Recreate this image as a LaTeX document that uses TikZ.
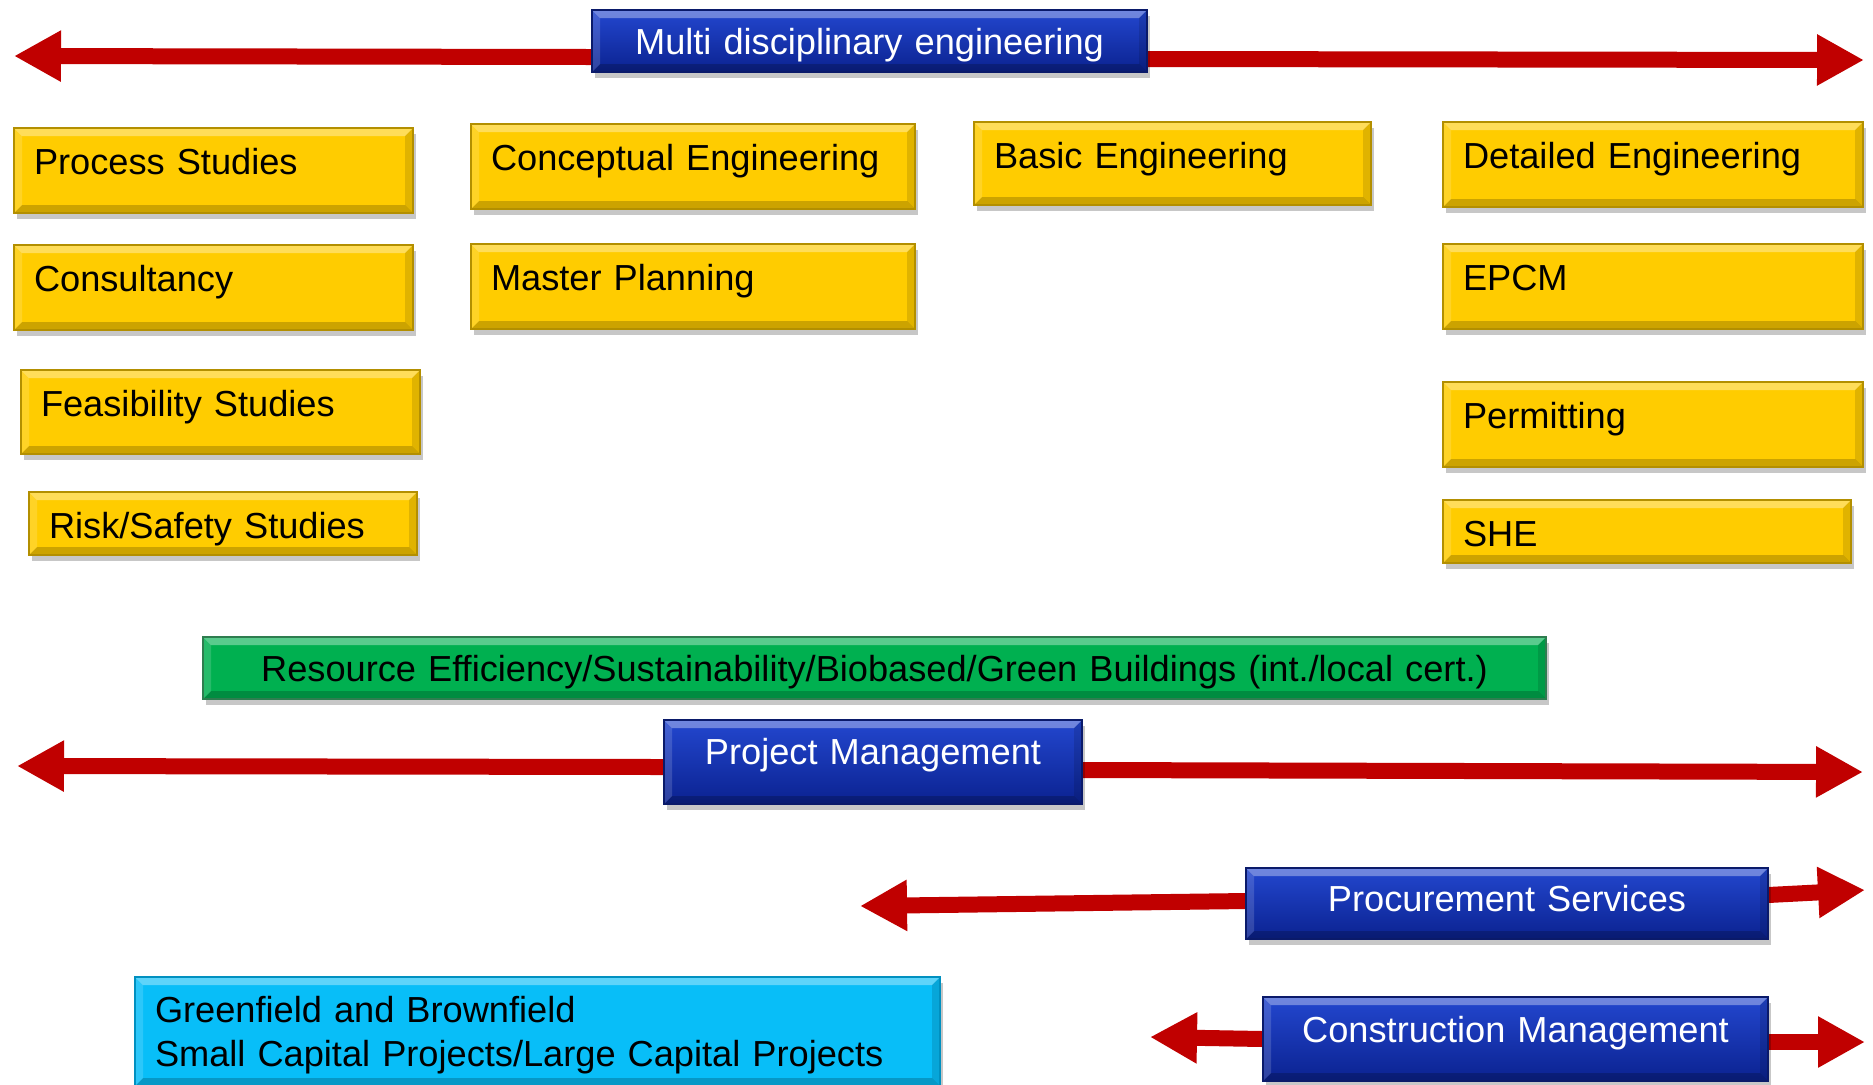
\documentclass[tikz,border=0pt]{standalone}
\usepackage{fontspec}
\setmainfont{Liberation Sans}
\usetikzlibrary{arrows.meta,shadows,backgrounds}
\definecolor{ygold}{HTML}{FFCC00}
\definecolor{yedge}{HTML}{B38F00}
\definecolor{btop}{HTML}{2347CF}
\definecolor{bbot}{HTML}{0B2290}
\definecolor{bedge}{HTML}{0A1A6A}
\definecolor{ggreen}{HTML}{00B050}
\definecolor{gedge}{HTML}{2E7D4F}
\definecolor{ccyan}{HTML}{08BEF8}
\definecolor{cedge}{HTML}{0090C0}
\definecolor{ared}{HTML}{C00000}
\tikzset{
  bevel/.style={path picture={
    \fill[white,opacity=0.35] (path picture bounding box.north west) -- (path picture bounding box.north east) -- ([xshift=-4pt,yshift=-4pt]path picture bounding box.north east) -- ([xshift=4pt,yshift=-4pt]path picture bounding box.north west) -- cycle;
    \fill[black,opacity=0.2] (path picture bounding box.south west) -- (path picture bounding box.south east) -- ([xshift=-4pt,yshift=4pt]path picture bounding box.south east) -- ([xshift=4pt,yshift=4pt]path picture bounding box.south west) -- cycle;
    \fill[white,opacity=0.15] (path picture bounding box.north west) -- ([xshift=4pt,yshift=-4pt]path picture bounding box.north west) -- ([xshift=4pt,yshift=4pt]path picture bounding box.south west) -- (path picture bounding box.south west) -- cycle;
    \fill[black,opacity=0.12] (path picture bounding box.north east) -- ([xshift=-4pt,yshift=-4pt]path picture bounding box.north east) -- ([xshift=-4pt,yshift=4pt]path picture bounding box.south east) -- (path picture bounding box.south east) -- cycle;
  }},
  box/.style={anchor=north west, inner xsep=10pt, inner ysep=0pt, outer sep=0pt,
    line width=0.6pt, font=\fontsize{18.1pt}{22pt}\selectfont,
    drop shadow={shadow xshift=1.5pt,shadow yshift=-3pt,opacity=0.22,fill=black}, bevel},
  ybox/.style={box, fill=ygold, draw=yedge, align=left, text height=23pt, text depth=19.5pt},
  bbox/.style={box, top color=btop, bottom color=bbot, draw=bedge, text=white, align=center},
  gbox/.style={box, fill=ggreen, draw=gedge, align=center},
  cbox/.style={box, fill=ccyan, draw=cedge, align=left},
  redarrow/.style={draw=ared, line width=8pt, -{Triangle[length=23.5pt,width=24pt,fill=ared]}},
}
\begin{document}
\begin{tikzpicture}[x=0.5pt,y=-0.5pt]
\useasboundingbox (0,0) rectangle (1873,1084);
% yellow boxes
\node[ybox, text width=179.5pt] (ps) at (14,128) {Process Studies};
\node[ybox, text width=179.5pt] (cs) at (14,245) {Consultancy};
\node[ybox, text width=179.5pt, text depth=19pt] (fs) at (21,370) {Feasibility Studies};
\node[ybox, text width=174pt, text depth=8.5pt] (rs) at (29,492) {Risk/Safety Studies};
\node[ybox, text width=202pt] (ce) at (471,124) {Conceptual Engineering};
\node[ybox, text width=202pt] (mp) at (471,244) {Master Planning};
\node[ybox, text width=178.5pt, text depth=18.5pt] (be) at (974,122) {Basic Engineering};
\node[ybox, text width=190pt] (de) at (1443,122) {Detailed Engineering};
\node[ybox, text width=190pt] (ep) at (1443,244) {EPCM};
\node[ybox, text width=190pt] (pe) at (1443,382) {Permitting};
\node[ybox, text width=184pt, text depth=8.5pt] (sh) at (1443,500) {SHE};
% blue boxes
\node[bbox, text width=257.5pt, text height=22pt, text depth=9pt] (mde) at (592,10) {Multi disciplinary engineering};
\node[bbox, text width=189pt, text height=22pt, text depth=20pt] (pm) at (664,720) {Project Management};
\node[bbox, text width=241pt, text height=21.5pt, text depth=14pt] (prn) at (1246,868) {Procurement Services};
\node[bbox, text width=232.5pt, text height=22.5pt, text depth=19.5pt] (cm) at (1263,997) {Construction Management};
% green and cyan
\node[gbox, text width=651.5pt, text height=22pt, text depth=9pt] (gr) at (203,637) {Resource Efficiency/Sustainability/Biobased/Green Buildings (int./local cert.)};
\node[cbox, text width=382.5pt, text height=22.5pt, text depth=32pt] (cy) at (135,977) {Greenfield and Brownfield\\Small Capital Projects/Large Capital Projects};
% arrow ends
\coordinate (tl) at (14,56);
\coordinate (tr) at (1864,60);
\coordinate (pl) at (17,766);
\coordinate (pr2) at (1863,772);
\coordinate (ql) at (860,906);
\coordinate (qr) at (1865,890);
\coordinate (cl) at (1150,1037);
\coordinate (cr) at (1865,1042);
\begin{scope}[on background layer]
\draw[redarrow] ([yshift=-8pt]mde.west) -- (tl);
\draw[redarrow] ([yshift=-9pt]mde.east) -- (tr);
\draw[redarrow] ([yshift=-2.5pt]pm.west) -- (pl);
\draw[redarrow] ([yshift=-4pt]pm.east) -- (pr2);
\draw[redarrow] ([yshift=1.25pt]prn.west) -- (ql);
\draw[redarrow] ([yshift=4.25pt]prn.east) -- (qr);
\draw[redarrow] (cm.west) -- (cl);
\draw[redarrow] ([yshift=-1.5pt]cm.east) -- (cr);
\end{scope}
\end{tikzpicture}
\end{document}
